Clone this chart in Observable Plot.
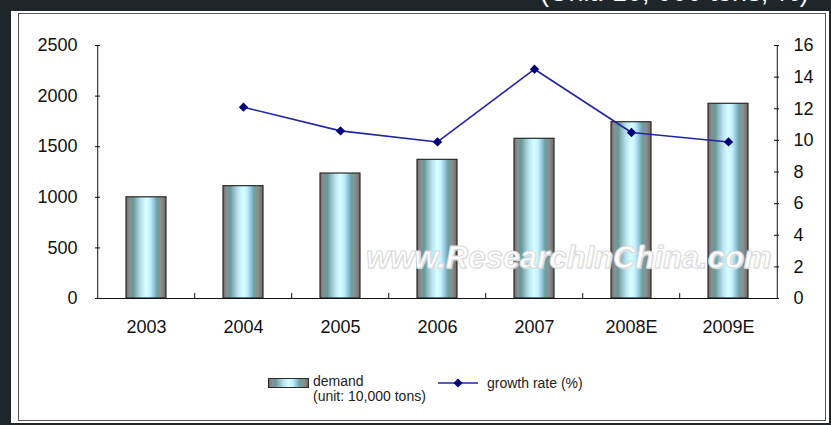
<!DOCTYPE html>
<html><head><meta charset="utf-8">
<script src="https://cdn.jsdelivr.net/npm/d3@7"></script>
<script src="https://cdn.jsdelivr.net/npm/@observablehq/plot@0.6"></script>
<style>
body{margin:0;background:#1f2629;width:831px;height:425px;overflow:hidden;position:relative;font-family:"Liberation Sans",Arial,sans-serif}
#outer{position:absolute;left:11px;top:11px;width:818px;height:412px;background:#fff}
#inner{position:absolute;left:18px;top:13px;width:808px;height:408px;box-sizing:border-box;border:1.5px solid #555}
#title{position:absolute;left:540px;top:-21px;font-size:27px;line-height:1;color:#fff;white-space:nowrap}
#chart{position:absolute;left:0;top:0}
#wm{position:absolute;left:366px;top:242px;font-size:31px;line-height:1;font-weight:bold;font-style:italic;color:#fff;-webkit-text-stroke:1px #d9d9d9;text-shadow:1px 1px 1px #e8e8e8;white-space:nowrap}
#legend{position:absolute;left:0;top:360px;width:831px;height:60px;font-size:14px;color:#222}
#legend .t{position:absolute;white-space:nowrap;line-height:14px}
</style></head>
<body>
<div id="outer"></div>
<div id="inner"></div>
<div id="title">(Unit: 10, 000 tons; %)</div>
<div id="chart"></div>
<div id="wm">www.ResearchInChina.com</div>
<div id="legend"></div>
<script>
const categories = ["2003","2004","2005","2006","2007","2008E","2009E"];
const demand = [1000, 1110, 1235, 1370, 1578, 1742, 1924];
const growth = [null, 12.1, 10.6, 9.9, 14.5, 10.5, 9.9];
const leftTicks = [0, 500, 1000, 1500, 2000, 2500];
const rightTicks = [0, 2, 4, 6, 8, 10, 12, 14, 16];

const W = 831, H = 360, mL = 95, mR = 53, mT = 45, mB = 62;
const yMax = 2500, gMax = 16, k = yMax / gMax;
const step = (W - mL - mR) / categories.length;
const tickLen = 5 * yMax / (H - mT - mB);

const rows = categories.map((c, i) => ({cat: c, demand: demand[i], growth: growth[i]}));
const lineRows = rows.filter(d => d.growth != null);

const stops = [
  [0, "#6a6a6a"], [0.08, "#8e8e8e"], [0.18, "#5f9c9c"], [0.28, "#9cbcc4"],
  [0.38, "#b8e6f2"], [0.5, "#d8ffff"], [0.6, "#c2f2ff"], [0.68, "#9ccde6"],
  [0.78, "#6aa2a2"], [0.88, "#8e8e8e"], [1, "#6a6a6a"]
];
function gradDefs() {
  const ns = "http://www.w3.org/2000/svg";
  const defs = document.createElementNS(ns, "defs");
  const g = document.createElementNS(ns, "linearGradient");
  g.setAttribute("id", "barGrad");
  g.setAttribute("x1", "0"); g.setAttribute("x2", "1");
  g.setAttribute("y1", "0"); g.setAttribute("y2", "0");
  for (const [o, c] of stops) {
    const s = document.createElementNS(ns, "stop");
    s.setAttribute("offset", o); s.setAttribute("stop-color", c);
    g.appendChild(s);
  }
  defs.appendChild(g);
  return defs;
}

const font = "Liberation Sans, Arial, sans-serif";
const plot = Plot.plot({
  width: W, height: H,
  marginLeft: mL, marginRight: mR, marginTop: mT, marginBottom: mB,
  style: {background: "none", fontFamily: font, fontSize: "18px", color: "#111", overflow: "visible"},
  x: {domain: categories, paddingInner: 0.59, paddingOuter: 0.295, label: null},
  y: {domain: [0, yMax], label: null},
  marks: [
    gradDefs,
    Plot.barY(rows, {x: "cat", y: "demand", fill: "url(#barGrad)", stroke: "#2a2a2a", strokeWidth: 1.2}),
    Plot.ruleY([0], {stroke: "#111", strokeWidth: 1}),
    Plot.ruleX([categories[0]], {x: d => d, dx: -step / 2, stroke: "#111", strokeWidth: 1}),
    Plot.ruleX([categories[categories.length - 1]], {x: d => d, dx: step / 2, stroke: "#111", strokeWidth: 1}),
    Plot.ruleX(categories.slice(1), {x: d => d, dx: -step / 2, y1: 0, y2: tickLen, stroke: "#111", strokeWidth: 1}),
    Plot.axisY({anchor: "left", ticks: leftTicks, tickSize: 0, tickPadding: 18, fontSize: 18, label: null, tickFormat: d => String(d)}),
    Plot.axisY({anchor: "left", ticks: leftTicks, tickSize: 5, dx: 5, tickFormat: () => "", label: null, stroke: "#111"}),
    Plot.axisY(rightTicks.map(v => v * k), {anchor: "right", tickSize: 0, tickPadding: 15, fontSize: 18, label: null, tickFormat: d => String(Math.round(d / k))}),
    Plot.axisY(rightTicks.map(v => v * k), {anchor: "right", tickSize: 5, dx: -5, tickFormat: () => "", label: null, stroke: "#111"}),
    Plot.axisX({tickSize: 0, tickPadding: 22, fontSize: 18, label: null}),
    Plot.line(lineRows, {x: "cat", y: d => d.growth * k, stroke: "#2323a6", strokeWidth: 1.6}),
    Plot.dot(lineRows, {x: "cat", y: d => d.growth * k, symbol: "diamond2", r: 4.2, fill: "#00007a", stroke: "none"})
  ]
});
document.getElementById("chart").appendChild(plot);

// legend
const leg = document.getElementById("legend");
leg.innerHTML = `
<svg width="831" height="60" style="position:absolute;left:0;top:0">
  <defs><linearGradient id="legGrad" x1="0" x2="1" y1="0" y2="0">
   ${stops.map(([o, c]) => `<stop offset="${o}" stop-color="${c}"/>`).join("")}
  </linearGradient></defs>
  <rect x="268.5" y="18.5" width="40" height="9" fill="url(#legGrad)" stroke="#2a2a2a" stroke-width="1"/>
  <line x1="438" x2="478" y1="23" y2="23" stroke="#2323a6" stroke-width="1.6"/>
  <path d="M458,18.5L462.5,23L458,27.5L453.5,23Z" fill="#00007a"/>
</svg>
<div class="t" style="left:313px;top:14px">demand</div>
<div class="t" style="left:313px;top:29px">(unit: 10,000 tons)</div>
<div class="t" style="left:487px;top:16px">growth rate (%)</div>`;
</script>
</body></html>
